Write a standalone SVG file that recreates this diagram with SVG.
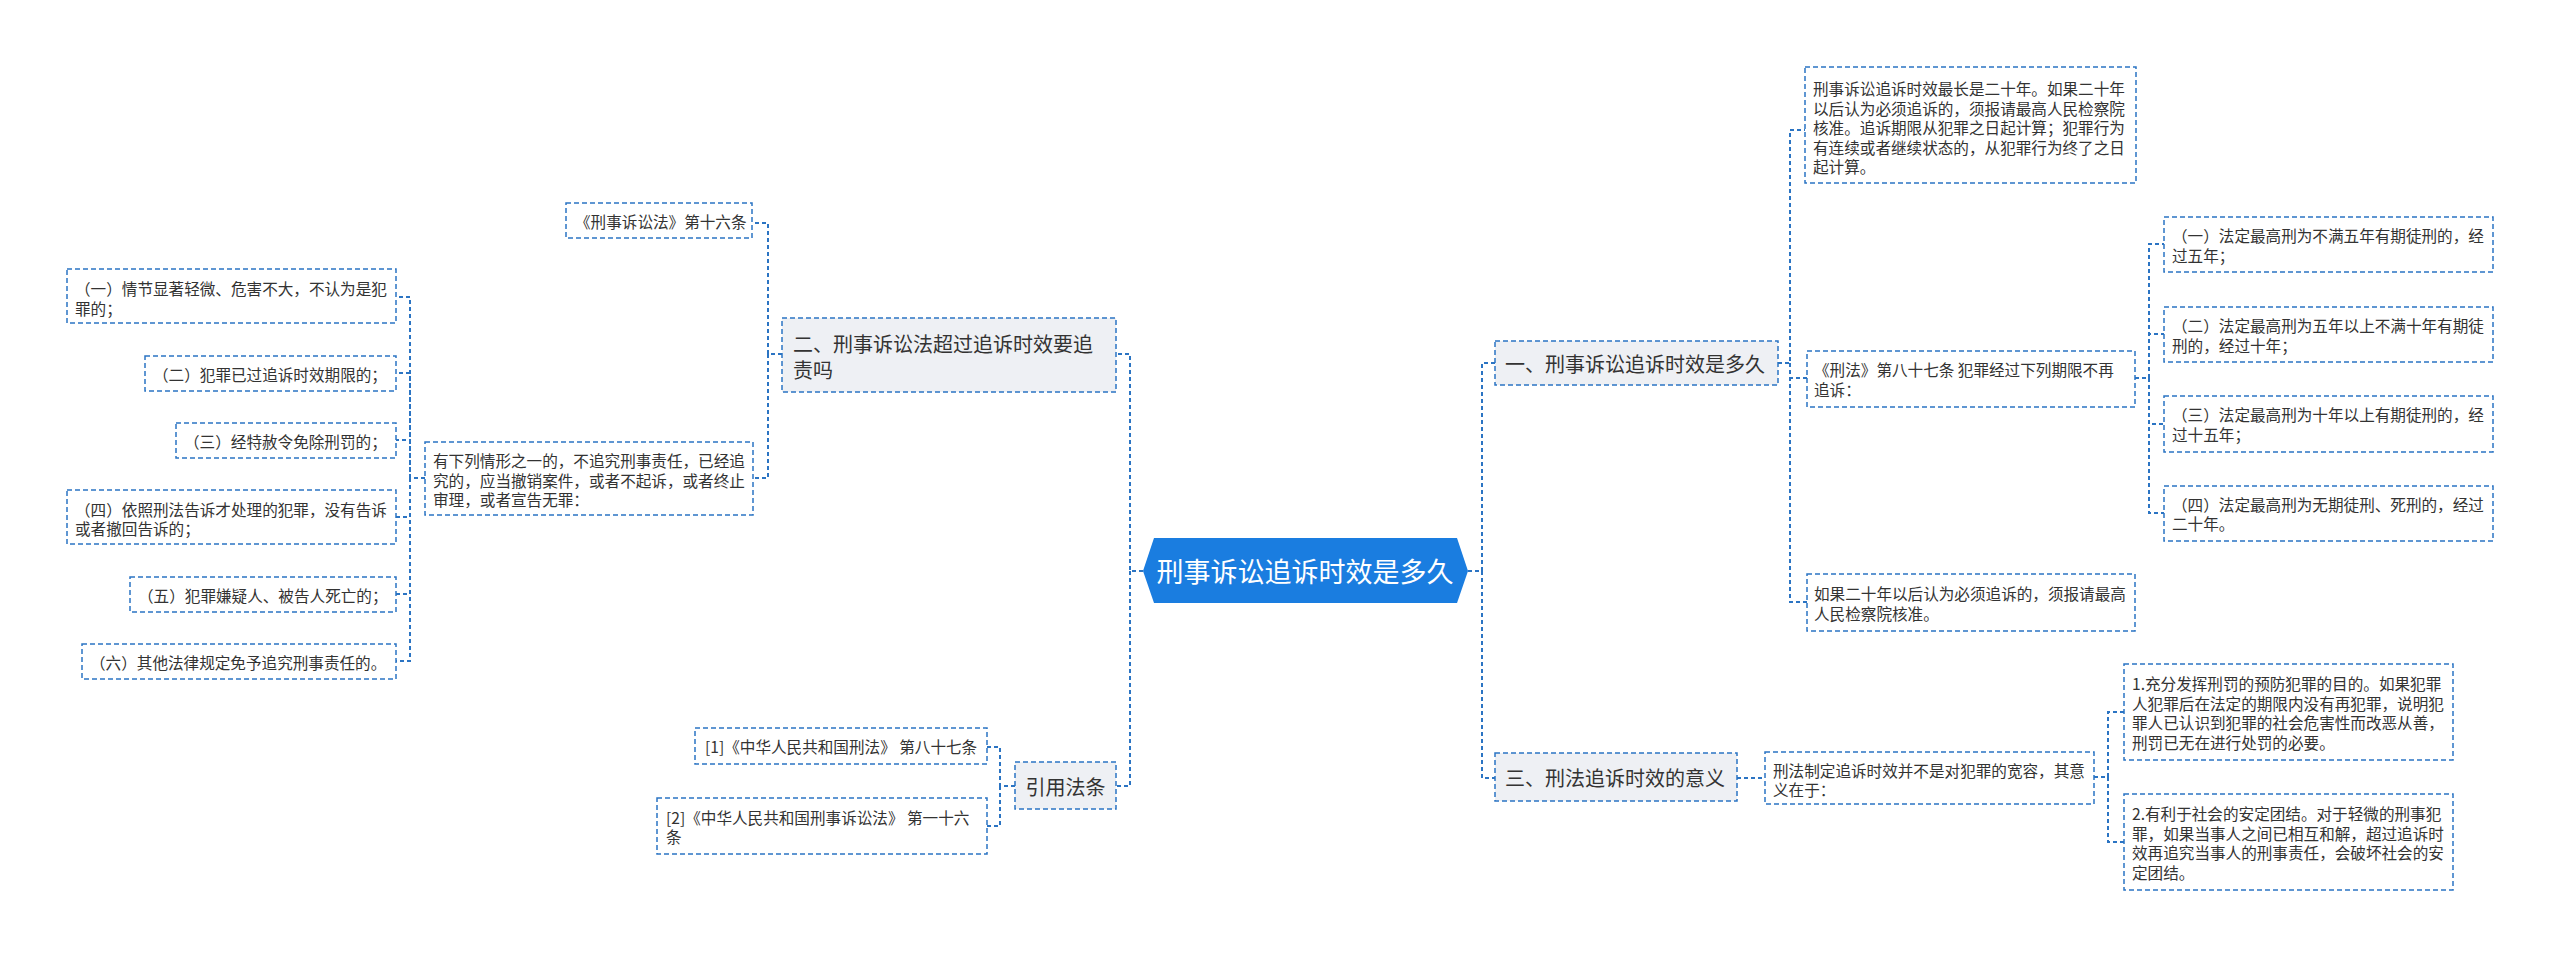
<svg xmlns="http://www.w3.org/2000/svg" width="2560" height="957" viewBox="0 0 2560 957">
<style>
.t{font-family:"Noto Sans CJK SC","Noto Sans",sans-serif;font-size:15.6px;fill:#333;dominant-baseline:central}
.m{font-family:"Noto Sans CJK SC","Noto Sans",sans-serif;font-size:20px;fill:#333;dominant-baseline:central}
.c{font-family:"Noto Sans CJK SC","Noto Sans",sans-serif;font-size:27px;fill:#fff;dominant-baseline:central;text-anchor:middle}
.b{fill:#fff;stroke:#2b74c3;stroke-width:1.5;stroke-dasharray:5 3}
.g{fill:#eef0f4;stroke:#2b74c3;stroke-width:1.5;stroke-dasharray:5 3}
.k path{fill:none;stroke:#2b74c3;stroke-width:2;stroke-dasharray:4 3}
</style>
<rect width="2560" height="957" fill="#fff"/>
<g class="k" id="connectors">
<path d="M1468 571 H1482 V363 H1495"/>
<path d="M1482 571 V778 H1495"/>
<path d="M1778 363 H1790 V130 H1805"/>
<path d="M1790 363 V378 H1807"/>
<path d="M1790 363 V602 H1807"/>
<path d="M2135 378 H2149 V244 H2164"/>
<path d="M2149 378 V334 H2164"/>
<path d="M2149 378 V424 H2164"/>
<path d="M2149 378 V513 H2164"/>
<path d="M1737 778 H1765"/>
<path d="M2094 777 H2108 V712 H2124"/>
<path d="M2108 777 V842 H2124"/>
<path d="M1143 571 H1130 V354 H1116"/>
<path d="M1130 571 V786 H1116"/>
<path d="M782 354 H768 V223 H752"/>
<path d="M768 354 V478 H753"/>
<path d="M425 478 H410 V297 H396"/>
<path d="M410 478 V373 H396"/>
<path d="M410 478 V440 H396"/>
<path d="M410 478 V517 H396"/>
<path d="M410 478 V594 H396"/>
<path d="M410 478 V661 H396"/>
<path d="M1015 786 H1000 V747 H987"/>
<path d="M1000 786 V826 H987"/>
</g>
<g id="center">
<polygon points="1143,571 1154,538 1457,538 1468,571 1457,603 1154,603" fill="#1a7de0"/>
<text class="c" x="1305" y="570">刑事诉讼追诉时效是多久</text>
</g>
<g id="n1">
<rect class="g" x="1495" y="341" width="283" height="44"/>
<text class="m" x="1505" y="363">一、刑事诉讼追诉时效是多久</text>
</g>
<g id="t1">
<rect class="b" x="1805" y="67" width="331" height="116"/>
<text class="t" x="1813" y="88">刑事诉讼追诉时效最长是二十年。如果二十年</text>
<text class="t" x="1813" y="107.5">以后认为必须追诉的，须报请最高人民检察院</text>
<text class="t" x="1813" y="127">核准。追诉期限从犯罪之日起计算；犯罪行为</text>
<text class="t" x="1813" y="146.5">有连续或者继续状态的，从犯罪行为终了之日</text>
<text class="t" x="1813" y="166">起计算。</text>
</g>
<g id="t2">
<rect class="b" x="1807" y="351" width="328" height="56"/>
<text class="t" x="1814" y="369">《刑法》第八十七条 犯罪经过下列期限不再</text>
<text class="t" x="1814" y="389">追诉：</text>
</g>
<g id="c1">
<rect class="b" x="2164" y="217" width="329" height="55"/>
<text class="t" x="2172" y="235">（一）法定最高刑为不满五年有期徒刑的，经</text>
<text class="t" x="2172" y="255">过五年；</text>
</g>
<g id="c2">
<rect class="b" x="2164" y="307" width="329" height="55"/>
<text class="t" x="2172" y="325">（二）法定最高刑为五年以上不满十年有期徒</text>
<text class="t" x="2172" y="345">刑的，经过十年；</text>
</g>
<g id="c3">
<rect class="b" x="2164" y="396" width="329" height="56"/>
<text class="t" x="2172" y="414">（三）法定最高刑为十年以上有期徒刑的，经</text>
<text class="t" x="2172" y="434">过十五年；</text>
</g>
<g id="c4">
<rect class="b" x="2164" y="486" width="329" height="55"/>
<text class="t" x="2172" y="504">（四）法定最高刑为无期徒刑、死刑的，经过</text>
<text class="t" x="2172" y="523">二十年。</text>
</g>
<g id="t3">
<rect class="b" x="1807" y="574" width="328" height="57"/>
<text class="t" x="1814" y="593">如果二十年以后认为必须追诉的，须报请最高</text>
<text class="t" x="1814" y="613">人民检察院核准。</text>
</g>
<g id="n3">
<rect class="g" x="1495" y="753" width="242" height="48"/>
<text class="m" x="1505" y="777">三、刑法追诉时效的意义</text>
</g>
<g id="s1">
<rect class="b" x="1765" y="752" width="329" height="52"/>
<text class="t" x="1773" y="770">刑法制定追诉时效并不是对犯罪的宽容，其意</text>
<text class="t" x="1773" y="789">义在于：</text>
</g>
<g id="m1">
<rect class="b" x="2124" y="664" width="329" height="96"/>
<text class="t" x="2132" y="683">1.充分发挥刑罚的预防犯罪的目的。如果犯罪</text>
<text class="t" x="2132" y="703">人犯罪后在法定的期限内没有再犯罪，说明犯</text>
<text class="t" x="2132" y="722">罪人已认识到犯罪的社会危害性而改恶从善，</text>
<text class="t" x="2132" y="742">刑罚已无在进行处罚的必要。</text>
</g>
<g id="m2">
<rect class="b" x="2124" y="794" width="329" height="96"/>
<text class="t" x="2132" y="813">2.有利于社会的安定团结。对于轻微的刑事犯</text>
<text class="t" x="2132" y="833">罪，如果当事人之间已相互和解，超过追诉时</text>
<text class="t" x="2132" y="852">效再追究当事人的刑事责任，会破坏社会的安</text>
<text class="t" x="2132" y="872">定团结。</text>
</g>
<g id="n2">
<rect class="g" x="782" y="318" width="334" height="74"/>
<text class="m" x="793" y="343">二、刑事诉讼法超过追诉时效要追</text>
<text class="m" x="793" y="369">责吗</text>
</g>
<g id="k1">
<rect class="b" x="566" y="203" width="186" height="35"/>
<text class="t" x="575" y="221">《刑事诉讼法》第十六条</text>
</g>
<g id="k2">
<rect class="b" x="425" y="442" width="328" height="73"/>
<text class="t" x="433" y="460">有下列情形之一的，不追究刑事责任，已经追</text>
<text class="t" x="433" y="480">究的，应当撤销案件，或者不起诉，或者终止</text>
<text class="t" x="433" y="499">审理，或者宣告无罪：</text>
</g>
<g id="l1">
<rect class="b" x="67" y="269" width="329" height="54"/>
<text class="t" x="75" y="288">（一）情节显著轻微、危害不大，不认为是犯</text>
<text class="t" x="75" y="308">罪的；</text>
</g>
<g id="l2">
<rect class="b" x="145" y="356" width="251" height="35"/>
<text class="t" x="153" y="374">（二）犯罪已过追诉时效期限的；</text>
</g>
<g id="l3">
<rect class="b" x="176" y="423" width="220" height="35"/>
<text class="t" x="184" y="441">（三）经特赦令免除刑罚的；</text>
</g>
<g id="l4">
<rect class="b" x="67" y="490" width="329" height="54"/>
<text class="t" x="75" y="509">（四）依照刑法告诉才处理的犯罪，没有告诉</text>
<text class="t" x="75" y="528">或者撤回告诉的；</text>
</g>
<g id="l5">
<rect class="b" x="130" y="577" width="266" height="35"/>
<text class="t" x="138" y="595">（五）犯罪嫌疑人、被告人死亡的；</text>
</g>
<g id="l6">
<rect class="b" x="82" y="644" width="314" height="35"/>
<text class="t" x="90" y="662">（六）其他法律规定免予追究刑事责任的。</text>
</g>
<g id="r">
<rect class="g" x="1015" y="762" width="101" height="47"/>
<text class="m" x="1065.5" y="786" text-anchor="middle">引用法条</text>
</g>
<g id="r1">
<rect class="b" x="695" y="728" width="292" height="36"/>
<text class="t" x="705" y="746">[1]《中华人民共和国刑法》 第八十七条</text>
</g>
<g id="r2">
<rect class="b" x="657" y="798" width="330" height="56"/>
<text class="t" x="666" y="817">[2]《中华人民共和国刑事诉讼法》 第一十六</text>
<text class="t" x="666" y="836">条</text>
</g>
</svg>
